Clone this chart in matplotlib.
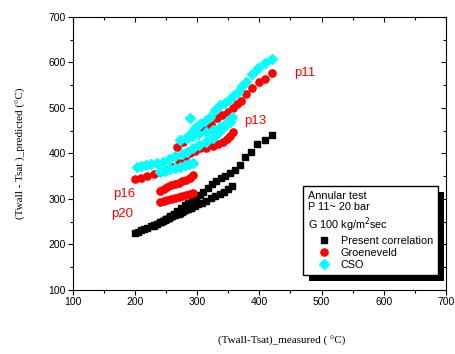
import numpy as np
import matplotlib
matplotlib.use('Agg')
import matplotlib.pyplot as plt
from matplotlib.patches import Rectangle
from matplotlib.transforms import IdentityTransform

plt.rcParams['font.family'] = ['Liberation Sans', 'DejaVu Sans']

# Present correlation (black squares)
black_x = ([200, 205, 210, 215, 220, 225, 230, 235, 240, 245, 250, 255, 260, 265, 270, 275, 280, 285, 290]
           + [230, 236, 242, 248, 254, 260, 266, 272, 278, 284, 290, 296, 302, 308, 315, 322, 329, 336, 343, 350, 356]
           + [250, 256, 262, 268, 274, 280, 286, 292, 298, 304, 310, 317, 324, 331, 338, 345, 352, 361, 369, 377, 386, 397, 409, 420])
black_y = ([225, 228, 231, 234, 237, 240, 243, 246, 249, 252, 256, 259, 262, 265, 268, 271, 275, 278, 281]
           + [240, 245, 250, 254, 258, 262, 266, 270, 274, 278, 281, 285, 289, 292, 296, 301, 306, 311, 316, 322, 328]
           + [255, 262, 268, 274, 280, 286, 292, 298, 303, 309, 316, 324, 332, 339, 345, 351, 357, 364, 375, 392, 403, 420, 430, 440])

# Groeneveld (red circles)
red_x = ([240, 246, 252, 258, 264, 270, 276, 282, 288, 293]
         + [240, 246, 252, 258, 264, 270, 276, 282, 288, 294]
         + [200, 210, 220, 230, 240, 250, 260, 270, 280, 288, 296, 304, 315, 325, 334, 341, 348, 353, 357]
         + [268, 277, 286, 295, 305, 315, 322, 332, 340, 350, 358, 364, 370, 378, 388, 399, 409, 420])
red_y = ([294, 296, 298, 300, 302, 304, 306, 308, 310, 312]
         + [318, 322, 326, 330, 333, 336, 339, 342, 346, 352]
         + [343, 347, 351, 355, 360, 364, 370, 378, 390, 400, 406, 411, 413, 416, 420, 425, 432, 438, 447]
         + [415, 425, 436, 445, 450, 458, 465, 478, 485, 492, 500, 508, 516, 531, 544, 557, 564, 577])

# CSO (cyan diamonds)
cyan_x = ([240, 248, 256, 264, 272, 280, 287, 293]
          + [203, 210, 218, 226, 235, 245, 255, 265, 275, 283, 293, 303, 315, 325, 335, 345, 352]
          + [272, 282, 292, 302, 315, 325, 337, 348, 356]
          + [283, 288, 290, 297, 305, 312, 320, 329, 337, 345, 352, 358, 365, 372, 378, 388, 398, 409, 420])
cyan_y = ([359, 362, 365, 368, 371, 374, 377, 379]
          + [370, 372, 375, 377, 379, 381, 388, 394, 398, 403, 412, 418, 425, 435, 448, 460, 469]
          + [430, 433, 438, 443, 447, 452, 458, 469, 480]
          + [434, 478, 445, 455, 465, 472, 480, 495, 507, 512, 520, 526, 535, 548, 557, 575, 588, 599, 608])

# pressure labels
p_labels = ['p11', 'p13', 'p16', 'p20']
p_pos = [(473, 577), (393, 471), (182, 310), (180, 266)]

fig = plt.figure(figsize=(4.55, 3.54), dpi=100)
ax = fig.add_axes([0.160, 0.181, 0.820, 0.771])

ax.plot(black_x, black_y, 's', color='black', ms=4.3, ls='none', label='Present correlation')
ax.plot(red_x, red_y, 'o', color='red', ms=5.2, ls='none', label='Groeneveld')
ax.plot(cyan_x, cyan_y, 'D', color='cyan', ms=4.8, ls='none', label='CSO')

for lab, (px, py) in zip(p_labels, p_pos):
    ax.text(px, py, lab, color='red', fontsize=9.5, ha='center', va='center')

ax.set_xlim(100, 700)
ax.set_ylim(100, 700)
ax.set_xticks(np.arange(100, 701, 100))
ax.set_yticks(np.arange(100, 701, 100))
ax.set_xticks(np.arange(150, 700, 100), minor=True)
ax.set_yticks(np.arange(150, 700, 100), minor=True)
ax.tick_params(axis='both', which='major', labelsize=7.5, length=3.5, width=0.8, pad=1.5)
ax.tick_params(axis='both', which='minor', length=2, width=0.8)
ax.tick_params(axis='x', which='both', top=True, direction='out')
ax.tick_params(axis='y', which='both', right=True, direction='out')
# inward ticks on top and right
for t in ax.xaxis.get_major_ticks() + ax.xaxis.get_minor_ticks():
    t.tick2line.set_marker(3)
for t in ax.yaxis.get_major_ticks() + ax.yaxis.get_minor_ticks():
    t.tick2line.set_marker(0)
for s in ax.spines.values():
    s.set_linewidth(0.8)

ax.set_xlabel('(Twall-Tsat)_measured ( °C)', family='Liberation Serif', fontsize=8)
ax.set_ylabel('(Twall - Tsat )_predicted (°C)', family='Liberation Serif', fontsize=8)
ax.xaxis.set_label_coords(0.560, -0.170)
ax.yaxis.set_label_coords(-0.125, 0.5)

leg = ax.legend(loc='upper left', bbox_to_anchor=(0.617, 0.381), fontsize=7.8,
                title='Annular test\nP 11~ 20 bar\nG 100 kg/m$^2$sec', title_fontsize=7.8,
                alignment='left', fancybox=False, framealpha=1, edgecolor='black',
                borderaxespad=0, borderpad=0.45, handlelength=3.0, handletextpad=0.05,
                labelspacing=0.2)
leg.get_frame().set_linewidth(1.0)

fig.canvas.draw()
bb = leg.get_frame().get_window_extent()
shadow = Rectangle((bb.x0 + 6, bb.y0 - 6), bb.width, bb.height, transform=IdentityTransform(),
                   facecolor='black', edgecolor='none', zorder=leg.get_zorder() - 0.1, clip_on=False)
ax.add_patch(shadow)

fig.savefig('out.png', dpi=100)
